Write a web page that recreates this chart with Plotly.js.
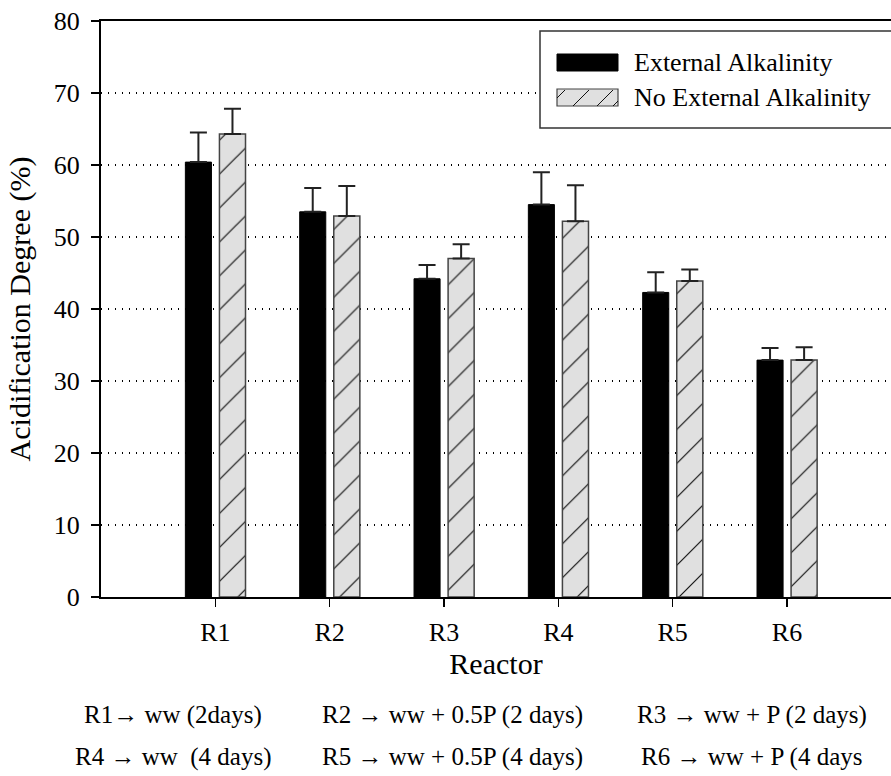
<!DOCTYPE html>
<html>
<head>
<meta charset="utf-8">
<script src="https://cdn.plot.ly/plotly-3.0.1.min.js"></script>
<style>
html,body{margin:0;padding:0;background:#fff;overflow:hidden;}
#chart{width:891px;height:776px;}
</style>
</head>
<body>
<div id="chart"></div>
<script>
// ---- data ----
const reactors = ['R1', 'R2', 'R3', 'R4', 'R5', 'R6'];
const externalAlk = [60.4, 53.5, 44.2, 54.5, 42.3, 32.9];
const externalAlkErr = [4.1, 3.3, 1.9, 4.5, 2.8, 1.7];
const noExternalAlk = [64.3, 52.9, 47.0, 52.2, 43.9, 32.9];
const noExternalAlkErr = [3.5, 4.2, 2.0, 5.0, 1.6, 1.8];
const seriesNames = ['External Alkalinity', 'No External Alkalinity'];
const yTicks = [0, 10, 20, 30, 40, 50, 60, 70, 80];
const notesRow1 = ['R1\u2192 ww (2days)', 'R2 \u2192 ww + 0.5P (2 days)', 'R3 \u2192 ww + P (2 days)'];
const notesRow2 = ['R4 \u2192 ww \u00a0(4 days)', 'R5 \u2192 ww + 0.5P (4 days)', 'R6 \u2192 ww + P (4 days'];

// ---- layout geometry (pixels) ----
const W = 891, H = 776;
const mL = 101, mR = 0, mT = 21, mB = 179;
const plotW = W - mL - mR, plotH = H - mT - mB;
const px = x => (x - mL) / plotW;          // pixel x -> paper
const py = y => (H - mB - y) / plotH;      // pixel y -> paper

const FONT = 'Liberation Serif, Times New Roman, Times, serif';
const hatchBg = '#e0e0e0';

const zeros = reactors.map(() => 0);

const traceExt = {
  type: 'bar', name: seriesNames[0], x: reactors, y: externalAlk,
  width: 0.228, offset: -0.262,
  marker: {color: '#000', line: {color: '#000', width: 1}},
  error_y: {type: 'data', symmetric: false, array: externalAlkErr, arrayminus: zeros,
            color: '#222', thickness: 2, width: 8.5},
  showlegend: false
};
const traceNoExt = {
  type: 'bar', name: seriesNames[1], x: reactors, y: noExternalAlk,
  width: 0.228, offset: 0.036,
  marker: {color: hatchBg, line: {color: '#444', width: 1.5},
           pattern: {shape: '/', size: 24, solidity: 0.05, fgcolor: '#111', bgcolor: hatchBg, fillmode: 'replace'}},
  error_y: {type: 'data', symmetric: false, array: noExternalAlkErr, arrayminus: zeros,
            color: '#222', thickness: 2, width: 8.5},
  showlegend: false
};

// custom legend (box, swatches, labels)
const lgX0 = 540, lgY0 = 31, lgY1 = 128;
const swX0 = 557, swX1 = 618;
const shapes = [
  {type: 'rect', xref: 'paper', yref: 'paper', x0: px(lgX0), x1: 1.02, y0: py(lgY1), y1: py(lgY0),
   fillcolor: '#fff', line: {color: '#333', width: 1.5}, layer: 'above'},
  {type: 'rect', xref: 'paper', yref: 'paper', x0: px(swX0), x1: px(swX1), y0: py(71), y1: py(54),
   fillcolor: '#000', line: {color: '#000', width: 1}, layer: 'above'},
  {type: 'rect', xref: 'paper', yref: 'paper', x0: px(swX0), x1: px(swX1), y0: py(106), y1: py(89),
   fillcolor: hatchBg, line: {color: '#444', width: 1.2}, layer: 'above'}
];
// hatch lines of legend swatch
[[557, 98, 565, 90], [573, 106, 589, 90], [597, 106, 613, 90], [613, 106, 618, 101]].forEach(s => {
  shapes.push({type: 'line', xref: 'paper', yref: 'paper', x0: px(s[0]), y0: py(s[1]), x1: px(s[2]), y1: py(s[3]),
               line: {color: '#111', width: 1}, layer: 'above'});
});

const annotations = [
  {xref: 'paper', yref: 'paper', x: px(632), y: py(63), xanchor: 'left', yanchor: 'middle',
   text: seriesNames[0], showarrow: false, font: {family: FONT, size: 26, color: '#000'}},
  {xref: 'paper', yref: 'paper', x: px(632), y: py(97.5), xanchor: 'left', yanchor: 'middle',
   text: seriesNames[1], showarrow: false, font: {family: FONT, size: 26, color: '#000'}}
];
const noteX = [173, 452, 752];
notesRow1.forEach((t, i) => annotations.push({xref: 'paper', yref: 'paper', x: px(noteX[i]), y: py(715),
  xanchor: 'center', yanchor: 'middle', text: t, showarrow: false, font: {family: FONT, size: 25, color: '#000'}}));
notesRow2.forEach((t, i) => annotations.push({xref: 'paper', yref: 'paper', x: px(noteX[i]), y: py(757),
  xanchor: 'center', yanchor: 'middle', text: t, showarrow: false, font: {family: FONT, size: 25, color: '#000'}}));

const layout = {
  width: W, height: H,
  margin: {l: mL, r: mR, t: mT, b: mB, pad: 0},
  paper_bgcolor: '#fff', plot_bgcolor: '#fff',
  font: {family: FONT, color: '#000'},
  showlegend: false,
  xaxis: {
    type: 'category', range: [-1.0, 5.91],
    showline: true, linecolor: '#000', linewidth: 2, mirror: true,
    ticks: 'outside', ticklen: 8, tickwidth: 1.5, tickcolor: '#000',
    showgrid: false, zeroline: false,
    tickfont: {family: FONT, size: 26},
    ticklabelstandoff: 3,
    title: {text: 'Reactor', font: {family: FONT, size: 30}, standoff: 5}
  },
  yaxis: {
    range: [0, 80], tickvals: yTicks, ticktext: yTicks.map(String),
    showline: true, linecolor: '#000', linewidth: 2, mirror: false,
    ticks: 'outside', ticklen: 8, tickwidth: 1.5, tickcolor: '#000',
    showgrid: true, gridcolor: '#000', gridwidth: 1.2, griddash: '1.2px,5.8px',
    zeroline: false,
    tickfont: {family: FONT, size: 26},
    ticklabelstandoff: 6,
    title: {text: 'Acidification Degree (%)', font: {family: FONT, size: 30}, standoff: 14}
  },
  shapes: shapes,
  annotations: annotations
};

Plotly.newPlot('chart', [traceExt, traceNoExt], layout, {staticPlot: true, displayModeBar: false});
</script>
</body>
</html>
